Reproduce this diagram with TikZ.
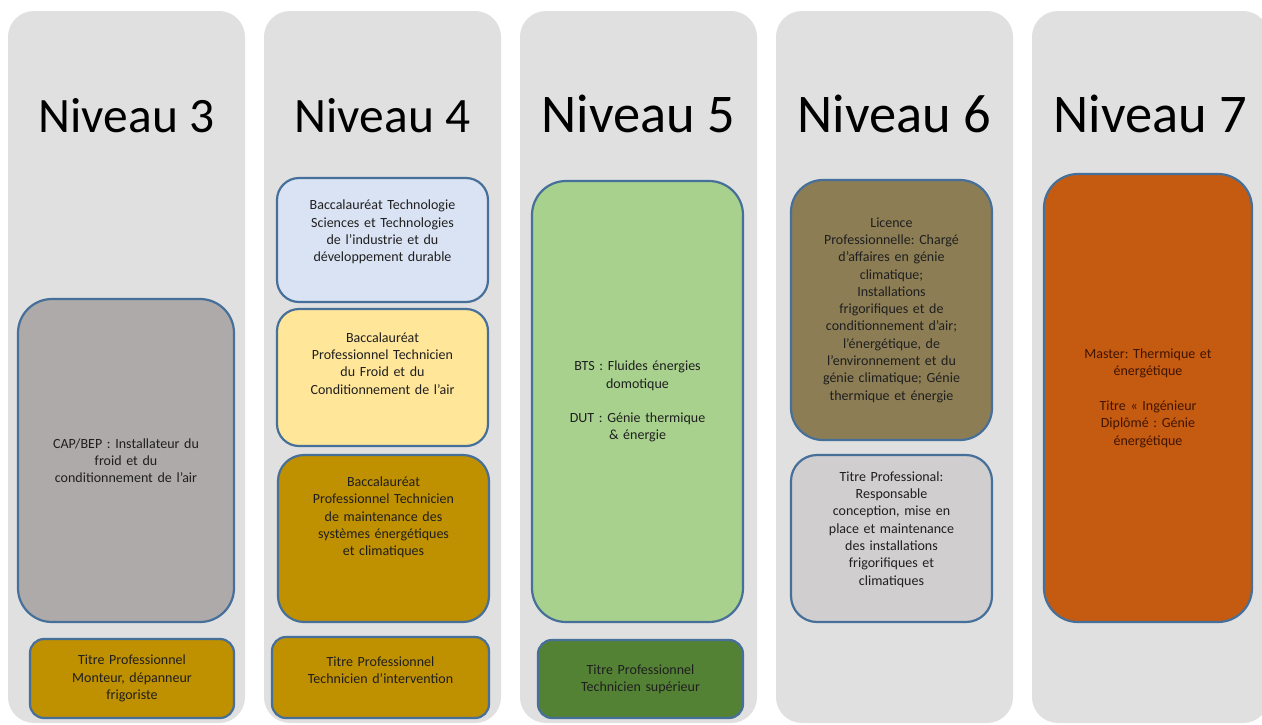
\documentclass[tikz,border=0pt]{standalone}
\usepackage{fontspec}
\setmainfont{Carlito}
\usetikzlibrary{positioning}
\frenchspacing

\definecolor{colbg}{HTML}{E0E0E0}
\definecolor{edge}{HTML}{46709A}
\definecolor{capgray}{HTML}{AEAAAA}
\definecolor{gold}{HTML}{BF9000}
\definecolor{paleblue}{HTML}{DAE3F3}
\definecolor{paleyellow}{HTML}{FFE699}
\definecolor{lightgreen}{HTML}{A9D18E}
\definecolor{darkgreen}{HTML}{548235}
\definecolor{olive}{HTML}{8C7D55}
\definecolor{lightgray}{HTML}{D0CECE}
\definecolor{rust}{HTML}{C55A11}
\definecolor{rusttext}{HTML}{401500}

\tikzset{
    %Define style for the level columns
    column/.style={
           rectangle,
           rounded corners=26pt,
           fill=colbg,
           minimum width=237pt,
           minimum height=712pt},
    %Define style for the level titles
    title/.style={
           anchor=base,
           text=black,
           font=\fontsize{#1}{#1}\selectfont},
    %Define style for boxes
    box/.style={
           rectangle,
           rounded corners=#1,
           draw=edge, line width=2.2pt,
           align=center,
           text=black!88,
           font=\fontsize{14}{17.3}\selectfont},
    box/.default=20pt,
    %Push the text up inside a box
    lift/.style={
           execute at end node={\par\kern#1\relax}}
}

\begin{document}
\begin{tikzpicture}[x=1pt, y=-1pt]
    \useasboundingbox[fill=white] (0,0) rectangle (1262,724);
 %columns and titles
    \foreach \n/\fs [count=\i from 0] in {3/49.5,4/49.5,5/54.5,6/54.5,7/54.5}{
        \node[column] (col\n) at (126.5+256*\i, 367) {};
        \node[title=\fs] (title\n) at (126.5+256*\i, 132) {Niveau \n};
    }
 %level 3
    \node[box=34pt, fill=capgray, minimum width=216pt, minimum height=323pt, text width=200pt]
        (cap) at (126, 460.5) {CAP/BEP : Installateur du\\ froid et du\\ conditionnement de l’air};
    \node[box=14pt, fill=gold, minimum width=204pt, minimum height=79pt, text width=188pt]
        (tp3) at (132, 678.5) {Titre Professionnel\\ Monteur, dépanneur\\ frigoriste};
 %level 4
    \node[box=22pt, fill=paleblue, minimum width=211pt, minimum height=124pt, text width=195pt, lift=16pt]
        (bacsti) at (382.5, 240) {Baccalauréat Technologie\\ Sciences et Technologies\\ de l'industrie et du\\ développement durable};
    \node[box=22pt, fill=paleyellow, minimum width=211pt, minimum height=137pt, text width=195pt, lift=28pt]
        (bactfc) at (382.5, 377.5) {Baccalauréat\\ Professionnel Technicien\\ du Froid et du\\ Conditionnement de l'air};
    \node[box=26pt, fill=gold, minimum width=211pt, minimum height=167pt, text width=195pt, lift=42pt]
        (bacmsec) at (383.5, 538.5) {Baccalauréat\\ Professionnel Technicien\\ de maintenance des\\ systèmes énergétiques\\ et climatiques};
    \node[box=14pt, fill=gold, minimum width=217pt, minimum height=81pt, text width=200pt, lift=14pt]
        (tp4) at (380.5, 677.5) {Titre Professionnel\\ Technicien d'intervention};
 %level 5
    \node[box=34pt, fill=lightgreen, minimum width=211pt, minimum height=441pt, text width=195pt]
        (bts) at (637.5, 401.5) {BTS : Fluides énergies\\ domotique\\[17pt] DUT : Génie thermique\\ \& énergie};
    \node[box=14pt, fill=darkgreen, minimum width=205pt, minimum height=78pt, text width=189pt]
        (tp5) at (640.5, 679) {Titre Professionnel\\ Technicien supérieur};
 %level 6
    \node[box=32pt, fill=olive, minimum width=201pt, minimum height=260pt, text width=185pt]
        (licpro) at (891.5, 310) {Licence\\ Professionnelle: Chargé\\ d'affaires en génie\\ climatique;\\ Installations\\ frigorifiques et de\\ conditionnement d'air;\\ l'énergétique, de\\ l'environnement et du\\ génie climatique; Génie\\ thermique et énergie};
    \node[box=26pt, fill=lightgray, minimum width=201pt, minimum height=167pt, text width=185pt, lift=18pt]
        (tp6) at (891.5, 538.5) {Titre Professional:\\ Responsable\\ conception, mise en\\ place et maintenance\\ des installations\\ frigorifiques et\\ climatiques};
 %level 7
    \node[box=34pt, fill=rust, text=rusttext, minimum width=208pt, minimum height=448pt, text width=192pt]
        (master) at (1148, 398) {Master: Thermique et\\ énergétique\\[18pt] Titre « Ingénieur\\ Diplômé : Génie\\ énergétique};
\end{tikzpicture}
\end{document}
